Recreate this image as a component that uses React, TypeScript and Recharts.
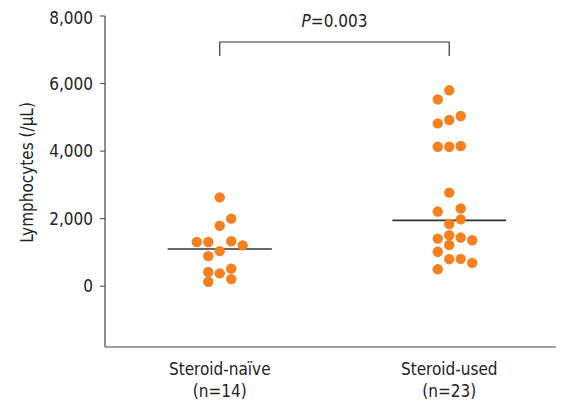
import React from 'react';
import { ScatterChart, Scatter, XAxis, YAxis, ReferenceLine, ReferenceDot, Label } from 'recharts';

// group labels and counts
const groups = ['Steroid-naïve', 'Steroid-used'];
const counts = ['(n=14)', '(n=23)'];
const groupCenters = [0.5, 1.5];

// lymphocyte counts, with the column each dot sits in
const naiveValues = [2630, 2000, 1790, 1310, 1310, 1330, 1210, 1040, 890, 420, 380, 520, 210, 130];
const naiveColumns = [0, 1, 0, -2, -1, 1, 2, 0, -1, -1, 0, 1, 1, -1];

const usedValues = [5800, 5530, 4820, 4920, 5040, 4130, 4130, 4150, 2770, 2210, 2300, 1980, 1840, 1510, 1410, 1440, 1360, 1220, 1020, 800, 810, 690, 500];
const usedColumns = [0, -1, -1, 0, 1, -1, 0, 1, 0, -1, 1, 1, 0, 0, -1, 1, 2, 0, -1, 0, 1, 2, -1];

const medians = [1100, 1950];
const medianHalfWidths = [0.227, 0.248];

const yTicks = [0, 2000, 4000, 6000, 8000];
const pValueText = '=0.003';

const COL_STEP = 0.05;
const FONT = "'Liberation Sans Narrow', 'Arial Narrow', 'DejaVu Sans Condensed', sans-serif";
const ORANGE = '#F4801F';
const AXIS = '#444';

const toPoints = (values: number[], cols: number[], center: number) =>
  values.map((v, i) => ({ x: center + cols[i] * COL_STEP, y: v }));

const naiveData = toPoints(naiveValues, naiveColumns, groupCenters[0]);
const usedData = toPoints(usedValues, usedColumns, groupCenters[1]);

const Dot = (props: any) => <circle cx={props.cx} cy={props.cy} r={5.2} fill={ORANGE} />;

const GroupTick = (props: any) => {
  const { x, y, payload } = props;
  const idx = groupCenters.indexOf(payload.value);
  return (
    <g>
      <text x={x} y={y + 20} textAnchor="middle" fontSize={17} fontFamily={FONT} fill="#222">
        {groups[idx]}
      </text>
      <text x={x} y={y + 42} textAnchor="middle" fontSize={17} fontFamily={FONT} fill="#222">
        {counts[idx]}
      </text>
    </g>
  );
};

const fmt = (v: number) => v.toLocaleString('en-US');

export default function App() {
  return (
    <ScatterChart width={556} height={397} margin={{ top: 8, right: 0, bottom: 0, left: 0 }}>
      <XAxis
        type="number"
        dataKey="x"
        domain={[0, 2]}
        ticks={groupCenters}
        tickLine={false}
        axisLine={{ stroke: AXIS, strokeWidth: 1.2 }}
        height={58}
        tick={<GroupTick />}
        interval={0}
      />
      <YAxis
        type="number"
        dataKey="y"
        domain={[-1800, 8000]}
        ticks={yTicks}
        width={97}
        tickSize={5}
        tickMargin={7}
        tickFormatter={fmt}
        tick={{ fontSize: 17, fontFamily: FONT, fill: '#222' }}
        tickLine={{ stroke: AXIS }}
        axisLine={{ stroke: AXIS, strokeWidth: 1.2 }}
      >
        <Label
          content={(p: any) => {
            const vb = p.viewBox;
            const cx = vb.x + 19;
            const cy = vb.y + vb.height / 2 - 9;
            return (
              <text
                x={cx}
                y={cy}
                transform={`rotate(-90 ${cx} ${cy})`}
                textAnchor="middle"
                dominantBaseline="central"
                fontSize={17}
                fontFamily={FONT}
                fill="#222"
              >
                Lymphocytes (/μL)
              </text>
            );
          }}
        />
      </YAxis>

      {groupCenters.map((c, i) => (
        <ReferenceLine
          key={`med-${i}`}
          segment={[{ x: c - medianHalfWidths[i], y: medians[i] }, { x: c + medianHalfWidths[i], y: medians[i] }]}
          stroke="#333"
          strokeWidth={1.6}
          ifOverflow="visible"
        />
      ))}

      <ReferenceLine segment={[{ x: 0.5, y: 7230 }, { x: 1.5, y: 7230 }]} stroke="#333" strokeWidth={1.2} ifOverflow="visible" />
      <ReferenceLine segment={[{ x: 0.5, y: 7230 }, { x: 0.5, y: 6815 }]} stroke="#333" strokeWidth={1.2} ifOverflow="visible" />
      <ReferenceLine segment={[{ x: 1.5, y: 7230 }, { x: 1.5, y: 6815 }]} stroke="#333" strokeWidth={1.2} ifOverflow="visible" />
      <ReferenceDot
        x={1}
        y={7850}
        ifOverflow="visible"
        shape={(p: any) => (
          <text x={p.cx} y={p.cy + 6} textAnchor="middle" fontSize={17} fontFamily={FONT} fill="#222">
            <tspan fontStyle="italic">P</tspan>
            {pValueText}
          </text>
        )}
      />

      <Scatter data={naiveData} shape={<Dot />} isAnimationActive={false} />
      <Scatter data={usedData} shape={<Dot />} isAnimationActive={false} />
    </ScatterChart>
  );
}
